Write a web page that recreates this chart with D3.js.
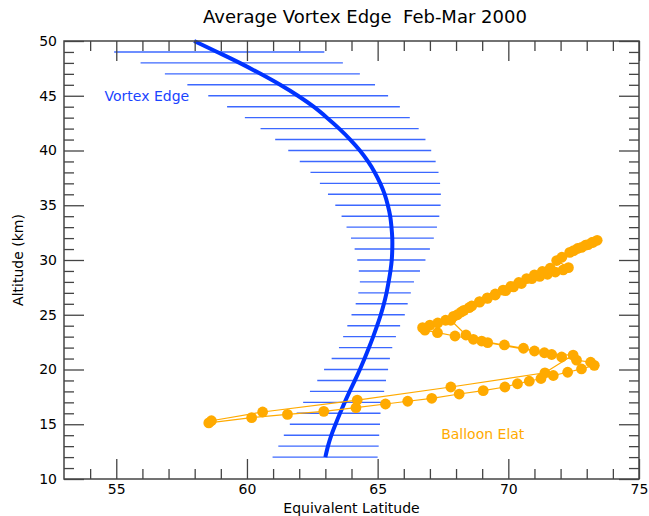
<!DOCTYPE html>
<html>
<head>
<meta charset="utf-8">
<script src="https://cdn.jsdelivr.net/npm/d3@7"></script>
<style>
  html, body { margin: 0; padding: 0; background: #fff; }
  svg { display: block; font-family: "DejaVu Sans", sans-serif; }
</style>
</head>
<body>
<svg id="chart" width="649" height="516"></svg>
<script>
// ---------------- DATA ----------------
const chartTitle = "Average Vortex Edge  Feb-Mar 2000";
const xLabel = "Equivalent Latitude";
const yLabel = "Altitude (km)";
const xTickValues = [55, 60, 65, 70, 75];
const yTickValues = [10, 15, 20, 25, 30, 35, 40, 45, 50];

// vortex edge mean curve (altitude km -> equivalent latitude)
const edgeAlt = [50, 49, 48, 47, 46, 45, 44, 43, 42, 41, 40, 39, 38, 37, 36, 35, 34, 33, 32, 31,
                 30, 29, 28, 27, 26, 25, 24, 23, 22, 21, 20, 19, 18, 17, 16, 15, 14, 13, 12];
const edgeLat = [57.98, 58.86, 59.72, 60.52, 61.27, 61.95, 62.55, 63.06, 63.53, 63.95,
                 64.32, 64.63, 64.89, 65.10, 65.27, 65.39, 65.48, 65.53, 65.56, 65.56,
                 65.54, 65.49, 65.42, 65.34, 65.24, 65.12, 64.98, 64.83, 64.67, 64.50,
                 64.32, 64.13, 63.93, 63.74, 63.56, 63.39, 63.23, 63.10, 63.00];

// spread bars (altitude km, low / high equivalent latitude)
const barAlt = [49, 48, 47, 46, 45, 44, 43, 42, 41, 40, 39, 38, 37, 36, 35, 34, 33, 32, 31,
                30, 29, 28, 27, 26, 25, 24, 23, 22, 21, 20, 19, 18, 17, 16, 15, 14, 13, 12];
const barLo = [54.92, 55.93, 56.86, 57.72, 58.52, 59.24, 59.92, 60.52, 61.08, 61.58,
               62.02, 62.43, 62.79, 63.10, 63.38, 63.62, 63.81, 63.98, 64.12, 64.22,
               64.28, 64.32, 64.26, 64.16, 64.00, 63.84, 63.68, 63.52, 63.24, 62.95,
               62.69, 62.41, 62.15, 61.90, 61.64, 61.41, 61.20, 60.98];
const barHi = [62.96, 63.67, 64.32, 64.90, 65.40, 65.85, 66.23, 66.57, 66.83, 67.05,
               67.22, 67.33, 67.39, 67.42, 67.41, 67.36, 67.27, 67.15, 67.00, 66.83,
               66.62, 66.39, 66.27, 66.15, 66.04, 65.86, 65.70, 65.56, 65.47, 65.40,
               65.32, 65.25, 65.16, 65.11, 65.09, 65.06, 65.04, 65.00];

// balloon equivalent latitude along the flight (in flight order)
const balloonLat = [
  58.54, 60.18, 61.55, 62.94, 64.17, 65.30, 66.15, 67.07, 68.12, 69.04, 69.87, 70.35, 70.80, 71.25, 71.72, 72.27, 72.80, 73.29, 73.15,
  72.61, 72.04, 71.38, 70.58, 69.85, 68.98, 67.96, 67.29, 66.81, 66.72,
  67.00, 67.30, 67.60, 67.90, 68.20, 68.50, 68.90, 69.20, 69.50, 69.90, 70.20, 70.50, 70.90, 71.20, 71.50, 71.80, 72.10, 72.30,
  71.85, 72.05, 72.35, 72.65, 72.95, 73.20, 73.40,
  73.25, 73.05, 72.80, 72.50, 71.60, 71.30, 71.00, 70.70, 70.40, 70.10, 69.80, 69.50, 69.20, 68.90, 68.60, 68.30, 68.05, 67.80,
  68.38, 68.66, 69.21, 71.00, 71.66, 72.48,
  71.40, 67.80, 64.22, 60.60, 58.64
];
const balloonAlt = [
  15.12, 15.60, 15.90, 16.18, 16.51, 16.85, 17.10, 17.37, 17.76, 18.07, 18.40, 18.70, 18.93, 19.18, 19.45, 19.75, 20.05, 20.38, 20.66,
  20.85, 21.14, 21.53, 21.94, 22.24, 22.60, 23.06, 23.36, 23.60, 23.82,
  24.05, 24.25, 24.50, 24.85, 25.25, 25.65, 26.15, 26.50, 26.80, 27.20, 27.55, 27.85, 28.30, 28.50, 28.70, 28.90, 29.10, 29.30,
  29.95, 30.25, 30.70, 31.05, 31.35, 31.60, 31.80,
  31.62, 31.40, 31.15, 30.85, 29.25, 28.95, 28.65, 28.30, 27.95, 27.60, 27.25, 26.90, 26.55, 26.20, 25.80, 25.40, 25.00, 24.50,
  23.15, 22.76, 22.45, 21.69, 21.37, 21.32,
  19.70, 18.40, 17.21, 16.12, 15.32
];

const edgeLabel = "Vortex Edge";
const balloonLabel = "Balloon Elat";

// ---------------- CHART ----------------
const W = 649, H = 516;
const margin = {left: 64, right: 10, top: 41, bottom: 37};
const x = d3.scaleLinear().domain([53, 75]).range([margin.left, W - margin.right]);
const y = d3.scaleLinear().domain([10, 50]).range([H - margin.bottom, margin.top]);

const svg = d3.select("#chart");
const axisColor = "#444";
const edgeColor = "#0033ff";
const barColor = "#3c68ff";
const balloonColor = "#ffaa00";
const fs = 14;

// spread bars
const bars = barAlt.map((a, i) => ({a, lo: barLo[i], hi: barHi[i]}));
svg.append("g").selectAll("line").data(bars).join("line")
  .attr("x1", d => x(d.lo)).attr("x2", d => x(d.hi))
  .attr("y1", d => y(d.a)).attr("y2", d => y(d.a))
  .attr("stroke", barColor).attr("stroke-width", 1.4);

// mean edge curve
const edge = edgeAlt.map((a, i) => ({a, lat: edgeLat[i]}));
svg.append("path").datum(edge)
  .attr("fill", "none").attr("stroke", edgeColor).attr("stroke-width", 4)
  .attr("d", d3.line().x(d => x(d.lat)).y(d => y(d.a)).curve(d3.curveCatmullRom));

// balloon
const balloon = balloonLat.map((lat, i) => ({lat, a: balloonAlt[i]}));
svg.append("path").datum(balloon)
  .attr("fill", "none").attr("stroke", balloonColor).attr("stroke-width", 1.2)
  .attr("d", d3.line().x(d => x(d.lat)).y(d => y(d.a)));
svg.append("g").selectAll("circle").data(balloon).join("circle")
  .attr("cx", d => x(d.lat)).attr("cy", d => y(d.a)).attr("r", 5.4)
  .attr("fill", balloonColor);

// annotations
svg.append("text").attr("x", x(54.55)).attr("y", y(45)).attr("dy", "0.35em")
  .attr("font-size", fs).attr("fill", "#1a44ff").text(edgeLabel);
svg.append("text").attr("x", x(67.43)).attr("y", y(14.1)).attr("dy", "0.35em")
  .attr("font-size", fs).attr("fill", balloonColor).text(balloonLabel);

// axes: ticks inward on all four sides
const x0 = x.range()[0], x1 = x.range()[1], y0 = y.range()[0], y1 = y.range()[1];
const xMinor = d3.range(54, 75, 1).filter(v => !xTickValues.includes(v));
const yMinor = d3.range(11, 50, 1).filter(v => !yTickValues.includes(v));

function styleAxis(g) {
  g.select(".domain").remove();
  g.selectAll(".tick line").attr("stroke", axisColor).attr("stroke-width", 1.3);
  g.selectAll(".tick text").attr("font-size", fs).attr("fill", "#000")
    .attr("font-family", "DejaVu Sans, sans-serif");
}

// bottom
svg.append("g").attr("transform", `translate(0,${y0})`)
  .call(d3.axisBottom(x).tickValues(xTickValues).tickSize(-20).tickPadding(5).tickFormat(d3.format("d")))
  .call(styleAxis);
svg.append("g").attr("transform", `translate(0,${y0})`)
  .call(d3.axisBottom(x).tickValues(xMinor).tickSize(-10).tickFormat(""))
  .call(styleAxis);
// top
svg.append("g").attr("transform", `translate(0,${y1})`)
  .call(d3.axisTop(x).tickValues(xTickValues).tickSize(-20).tickFormat(""))
  .call(styleAxis);
svg.append("g").attr("transform", `translate(0,${y1})`)
  .call(d3.axisTop(x).tickValues(xMinor).tickSize(-10).tickFormat(""))
  .call(styleAxis);
// left
svg.append("g").attr("transform", `translate(${x0},0)`)
  .call(d3.axisLeft(y).tickValues(yTickValues).tickSize(-20).tickPadding(7).tickFormat(d3.format("d")))
  .call(styleAxis);
svg.append("g").attr("transform", `translate(${x0},0)`)
  .call(d3.axisLeft(y).tickValues(yMinor).tickSize(-10).tickFormat(""))
  .call(styleAxis);
// right
svg.append("g").attr("transform", `translate(${x1},0)`)
  .call(d3.axisRight(y).tickValues(yTickValues).tickSize(-20).tickFormat(""))
  .call(styleAxis);
svg.append("g").attr("transform", `translate(${x1},0)`)
  .call(d3.axisRight(y).tickValues(yMinor).tickSize(-10).tickFormat(""))
  .call(styleAxis);

// frame
svg.append("rect").attr("x", x0).attr("y", y1).attr("width", x1 - x0).attr("height", y0 - y1)
  .attr("fill", "none").attr("stroke", axisColor).attr("stroke-width", 1.5);

// titles
svg.append("text").attr("x", 365).attr("y", 23).attr("text-anchor", "middle")
  .attr("font-size", 18).attr("fill", "#000").style("white-space", "pre").text(chartTitle);
svg.append("text").attr("x", (x0 + x1) / 2).attr("y", 513).attr("text-anchor", "middle")
  .attr("font-size", fs).attr("fill", "#000").text(xLabel);
svg.append("text").attr("transform", `translate(23,${(y0 + y1) / 2}) rotate(-90)`)
  .attr("text-anchor", "middle").attr("font-size", fs).attr("fill", "#000").text(yLabel);
</script>
</body>
</html>
